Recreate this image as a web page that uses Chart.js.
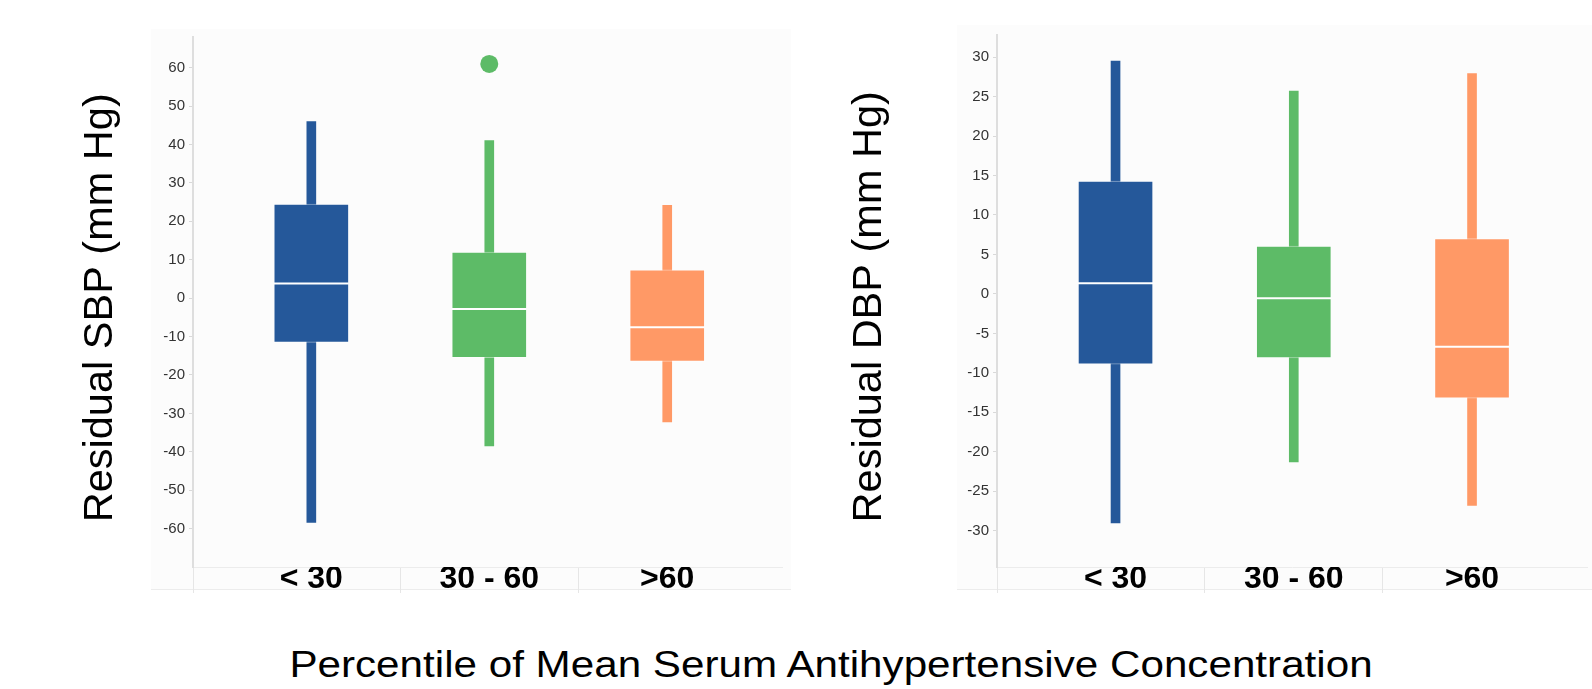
<!DOCTYPE html>
<html lang="en">
<head>
  <meta charset="UTF-8" />
  <title>Residual SBP / DBP by antihypertensive concentration</title>
  <script src="https://cdn.jsdelivr.net/npm/chart.js@4"></script>
  <style>
    html, body {
      margin: 0;
      padding: 0;
      width: 1592px;
      height: 689px;
      overflow: hidden;
      background: #fff;
      font-family: "Liberation Sans", Arial, sans-serif;
    }

    .panel {
      position: absolute;
      background: #fcfcfc;
      border-bottom: 1px solid #ececec;
    }
    #panelL { left: 151px; top: 29px; width: 640px; height: 560px; }
    #panelR { left: 957px; top: 25px; width: 635px; height: 564px; }

    canvas { position: absolute; top: 0; }
    #sbpChart { left: 60px; }
    #dbpChart { left: 829px; }

    .xtitle {
      position: absolute;
      left: 231px;
      top: 646px;
      width: 1200px;
      text-align: center;
      white-space: nowrap;
      font-size: 37px;
      line-height: 37px;
      color: #000;
      transform: scaleX(1.14);
    }
  </style>
</head>
<body>

<div class="panel" id="panelL"></div>
<div class="panel" id="panelR"></div>

<canvas id="sbpChart" width="732" height="610"></canvas>
<canvas id="dbpChart" width="763" height="610"></canvas>

<div class="xtitle">Percentile of Mean Serum Antihypertensive Concentration</div>

<script>
  // categories and colours (one per box)
  const categories = ['< 30', '30 - 60', '>60'];
  const colors = ['#25589a', '#5dbb67', '#ff9966'];

  // residual SBP
  const sbpMin = [-58.4, -38.5, -32.2];
  const sbpQ1 = [-11.5, -15.5, -16.5];
  const sbpMedian = [3.8, -2.8, -7.6];
  const sbpQ3 = [24.5, 12.0, 7.4];
  const sbpMax = [46.0, 41.0, 24.2];
  const sbpOutliers = [null, 61.0, null];
  const sbpTicks = [-60, -50, -40, -30, -20, -10, 0, 10, 20, 30, 40, 50, 60];

  // residual DBP
  const dbpMin = [-29.0, -21.3, -26.8];
  const dbpQ1 = [-8.9, -8.1, -13.2];
  const dbpMedian = [1.35, -0.55, -6.7];
  const dbpQ3 = [14.3, 6.05, 7.0];
  const dbpMax = [29.5, 25.7, 27.9];
  const dbpOutliers = [null, null, null];
  const dbpTicks = [-30, -25, -20, -15, -10, -5, 0, 5, 10, 15, 20, 25, 30];

  const FONT = '"Liberation Sans", Arial, sans-serif';
  const X_MIN = -0.665;
  const X_MAX = 2.645;

  // light separators between the category labels
  function divider(ctx) {
    if (!ctx.tick) return 'rgba(0,0,0,0)';
    const v = ctx.tick.value;
    return (Number.isInteger(v) || v === X_MAX) ? 'rgba(0,0,0,0)' : '#e6e6e6';
  }

  function boxChart(id, s) {
    const idx = categories.map((c, i) => i);
    const outIdx = idx.filter(i => s.out[i] != null);

    return new Chart(document.getElementById(id), {
      type: 'bar',
      data: {
        datasets: [
          {
            type: 'line',
            label: 'median',
            data: idx.map(i => ({ x: i, y: s.med[i] })),
            showLine: false,
            pointStyle: 'line',
            pointRadius: 37.5,
            pointHoverRadius: 37.5,
            pointBorderWidth: 2,
            pointBorderColor: '#ffffff',
            order: 0
          },
          {
            type: 'line',
            label: 'outlier',
            data: outIdx.map(i => ({ x: i, y: s.out[i] })),
            showLine: false,
            pointRadius: 9,
            pointBorderWidth: 0,
            pointBackgroundColor: outIdx.map(i => colors[i]),
            order: 1
          },
          {
            label: 'box',
            data: idx.map(i => ({ x: i, y: [s.q1[i], s.q3[i]] })),
            backgroundColor: colors,
            borderColor: 'rgba(255,255,255,0.45)',
            borderWidth: 1,
            borderSkipped: false,
            barThickness: 75,
            grouped: false,
            order: 2
          },
          {
            label: 'whisker',
            data: idx.map(i => ({ x: i, y: [s.min[i], s.max[i]] })),
            backgroundColor: colors,
            barThickness: 9,
            grouped: false,
            order: 3
          }
        ]
      },
      options: {
        responsive: false,
        animation: false,
        layout: { padding: s.padding, autoPadding: false },
        plugins: {
          legend: { display: false },
          tooltip: { enabled: false }
        },
        scales: {
          x: {
            type: 'linear',
            min: X_MIN,
            max: X_MAX,
            offset: false,
            afterBuildTicks: sc => {
              sc.ticks = [X_MIN, 0, 0.5, 1, 1.5, 2, X_MAX].map(v => ({ value: v }));
            },
            afterFit: sc => {
              sc.height = 30;
              sc.paddingLeft = 0;
              sc.paddingRight = 0;
            },
            ticks: {
              autoSkip: false,
              maxRotation: 0,
              padding: -33,
              color: '#000',
              font: { size: 32, weight: 'bold', family: FONT },
              callback: v => Number.isInteger(v) ? categories[v] : ''
            },
            grid: {
              drawOnChartArea: false,
              offset: false,
              tickLength: 26,
              color: divider,
              tickColor: divider
            },
            border: { color: '#ececec', width: 1 }
          },
          y: {
            type: 'linear',
            min: s.yMin,
            max: s.yMax,
            afterBuildTicks: sc => {
              sc.ticks = s.ticks.map(v => ({ value: v }));
            },
            afterFit: sc => {
              sc.width = s.axisWidth;
              sc.paddingTop = 0;
              sc.paddingBottom = 0;
            },
            ticks: {
              autoSkip: false,
              padding: 4,
              color: '#333',
              font: { size: 15, family: FONT }
            },
            grid: { drawOnChartArea: false, tickLength: 4, color: '#d9d9d9' },
            border: { color: '#dedede', width: 2 },
            title: {
              display: true,
              // trailing no-break space nudges the centred title down a little
              text: s.title + '\u00a0',
              color: '#000',
              font: { size: 41.5, family: FONT, lineHeight: 1 },
              padding: { top: 20, bottom: 0 }
            }
          }
        }
      }
    });
  }

  boxChart('sbpChart', {
    min: sbpMin, q1: sbpQ1, med: sbpMedian, q3: sbpQ3, max: sbpMax, out: sbpOutliers,
    ticks: sbpTicks, yMin: -70, yMax: 68,
    title: 'Residual SBP (mm Hg)',
    axisWidth: 133,
    padding: { top: 37, right: 10, bottom: 13, left: 0 }
  });

  boxChart('dbpChart', {
    min: dbpMin, q1: dbpQ1, med: dbpMedian, q3: dbpQ3, max: dbpMax, out: dbpOutliers,
    ticks: dbpTicks, yMin: -34.6, yMax: 32.8,
    title: 'Residual DBP (mm Hg)',
    axisWidth: 168,
    padding: { top: 35, right: 5, bottom: 13, left: 0 }
  });
</script>

</body>
</html>
